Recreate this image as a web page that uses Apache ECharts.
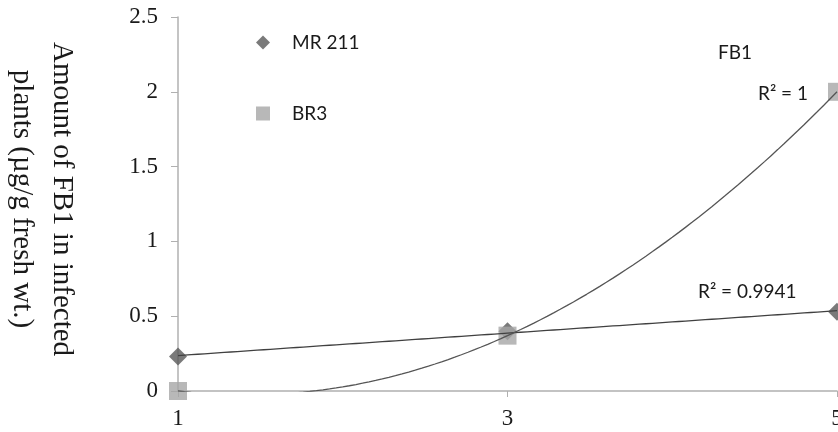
<!DOCTYPE html>
<html>
<head>
<meta charset="utf-8">
<script src="https://cdn.jsdelivr.net/npm/echarts@6/dist/echarts.min.js"></script>
<style>
  html, body { margin: 0; padding: 0; background: #fff; }
  #chart { width: 838px; height: 432px; }
</style>
</head>
<body>
<div id="chart"></div>
<script>
// ---- Data ----
const days = [1, 3, 5];
const mr211 = [0.23, 0.40, 0.53];
const br3 = [0, 0.37, 2.0];
const seriesNames = ['MR 211', 'BR3'];
const xTicks = [1, 3, 5];
const yTicks = [0, 0.5, 1, 1.5, 2, 2.5];
const yTitle = ['Amount of FB1 in infected', 'plants (µg/g fresh wt.)'];
const chartLabel = 'FB1';

// ---- Trendlines from the data (least squares) ----
function linearFit(xs, ys) {
  const n = xs.length;
  const mx = xs.reduce((a, b) => a + b, 0) / n;
  const my = ys.reduce((a, b) => a + b, 0) / n;
  let sxy = 0, sxx = 0;
  for (let i = 0; i < n; i++) { sxy += (xs[i] - mx) * (ys[i] - my); sxx += (xs[i] - mx) ** 2; }
  const b = sxy / sxx, a = my - b * mx;
  return x => a + b * x;
}
function quadFit(xs, ys) {
  const S = k => xs.reduce((s, x) => s + Math.pow(x, k), 0);
  const T = k => xs.reduce((s, x, i) => s + Math.pow(x, k) * ys[i], 0);
  const M = [[S(0), S(1), S(2), T(0)], [S(1), S(2), S(3), T(1)], [S(2), S(3), S(4), T(2)]];
  for (let c = 0; c < 3; c++) {
    for (let r = c + 1; r < 3; r++) {
      const f = M[r][c] / M[c][c];
      for (let k = c; k < 4; k++) M[r][k] -= f * M[c][k];
    }
  }
  const co = [0, 0, 0];
  for (let r = 2; r >= 0; r--) {
    let s = M[r][3];
    for (let k = r + 1; k < 3; k++) s -= M[r][k] * co[k];
    co[r] = s / M[r][r];
  }
  return x => co[0] + co[1] * x + co[2] * x * x;
}
function rSquared(f, xs, ys) {
  const my = ys.reduce((a, b) => a + b, 0) / ys.length;
  let ssr = 0, sst = 0;
  ys.forEach((y, i) => { ssr += (y - f(xs[i])) ** 2; sst += (y - my) ** 2; });
  return 1 - ssr / sst;
}
const fMR = linearFit(days, mr211);
const fBR = quadFit(days, br3);
const steps = 100;
const x0 = days[0], x1 = days[days.length - 1];
const mrTrend = [], brTrend = [];
for (let i = 0; i <= steps; i++) {
  const x = x0 + (x1 - x0) * i / steps;
  mrTrend.push([x, fMR(x)]);
  brTrend.push([x, fBR(x)]);
}
const r2MR = 'R² = ' + parseFloat(rSquared(fMR, days, mr211).toFixed(4));
const r2BR = 'R² = ' + parseFloat(rSquared(fBR, days, br3).toFixed(4));

const sans = 'Lato, "Open Sans", sans-serif';
const serif = '"Liberation Serif", "DejaVu Serif", serif';

const chart = echarts.init(document.getElementById('chart'));
chart.setOption({
  backgroundColor: '#ffffff',
  animation: false,
  grid: { left: 178, right: 1, top: 17, bottom: 41, containLabel: false, outerBoundsMode: 'none' },
  legend: {
    orient: 'vertical',
    left: 251,
    top: 28,
    itemWidth: 14,
    itemHeight: 14,
    itemGap: 52,
    selectedMode: false,
    data: [
      { name: seriesNames[0], icon: 'diamond', itemStyle: { color: '#595959' } },
      { name: seriesNames[1], icon: 'rect', itemStyle: { color: '#a6a6a6' } }
    ],
    textStyle: { fontFamily: sans, fontSize: 19, color: '#1a1a1a', padding: [0, 0, 0, 17] }
  },
  xAxis: {
    type: 'value',
    min: 1, max: 5, interval: 2,
    axisLine: { show: true, lineStyle: { color: '#b0b0b0', width: 1.5 } },
    axisTick: { show: true, length: 6, lineStyle: { color: '#b0b0b0' } },
    splitLine: { show: false },
    axisLabel: {
      margin: 16, fontFamily: serif, fontSize: 23, color: '#1a1a1a',
      formatter: v => xTicks.indexOf(v) >= 0 ? String(v) : ''
    }
  },
  yAxis: {
    type: 'value',
    min: 0, max: 2.5, interval: 0.5,
    axisLine: { show: true, lineStyle: { color: '#b0b0b0', width: 1.5 } },
    axisTick: { show: true, length: 7, lineStyle: { color: '#b0b0b0' } },
    splitLine: { show: false },
    axisLabel: {
      margin: 20, fontFamily: serif, fontSize: 23, color: '#1a1a1a',
      formatter: v => yTicks.indexOf(v) >= 0 ? String(v) : ''
    }
  },
  graphic: [
    {
      type: 'text', x: 42, y: 199, rotation: -Math.PI / 2,
      style: {
        text: yTitle.join('\n'), font: '29px ' + serif, fill: '#1a1a1a',
        align: 'center', verticalAlign: 'middle', lineHeight: 40
      }
    },
    { type: 'text', x: 718, y: 53, style: { text: chartLabel, font: '19px ' + sans, fill: '#1a1a1a', verticalAlign: 'middle' } },
    { type: 'text', x: 758, y: 94, style: { text: r2BR, font: '19px ' + sans, fill: '#1a1a1a', verticalAlign: 'middle' } },
    { type: 'text', x: 698, y: 292, style: { text: r2MR, font: '19px ' + sans, fill: '#1a1a1a', verticalAlign: 'middle' } }
  ],
  series: [
    {
      name: seriesNames[0], type: 'scatter', symbol: 'diamond', symbolSize: 18,
      itemStyle: { color: '#595959' },
      data: days.map((d, i) => [d, mr211[i]]), z: 2
    },
    {
      name: seriesNames[1], type: 'scatter', symbol: 'rect', symbolSize: 18,
      itemStyle: { color: '#a6a6a6' },
      data: days.map((d, i) => [d, br3[i]]), z: 3
    },
    {
      name: 'MR trend', type: 'line', data: mrTrend, showSymbol: false, symbol: 'none',
      lineStyle: { color: '#404040', width: 1.3 }, clip: true, z: 4, silent: true
    },
    {
      name: 'BR trend', type: 'line', data: brTrend, showSymbol: false, symbol: 'none',
      lineStyle: { color: '#555555', width: 1.3 }, clip: true, z: 4, silent: true
    }
  ]
});
</script>
</body>
</html>
